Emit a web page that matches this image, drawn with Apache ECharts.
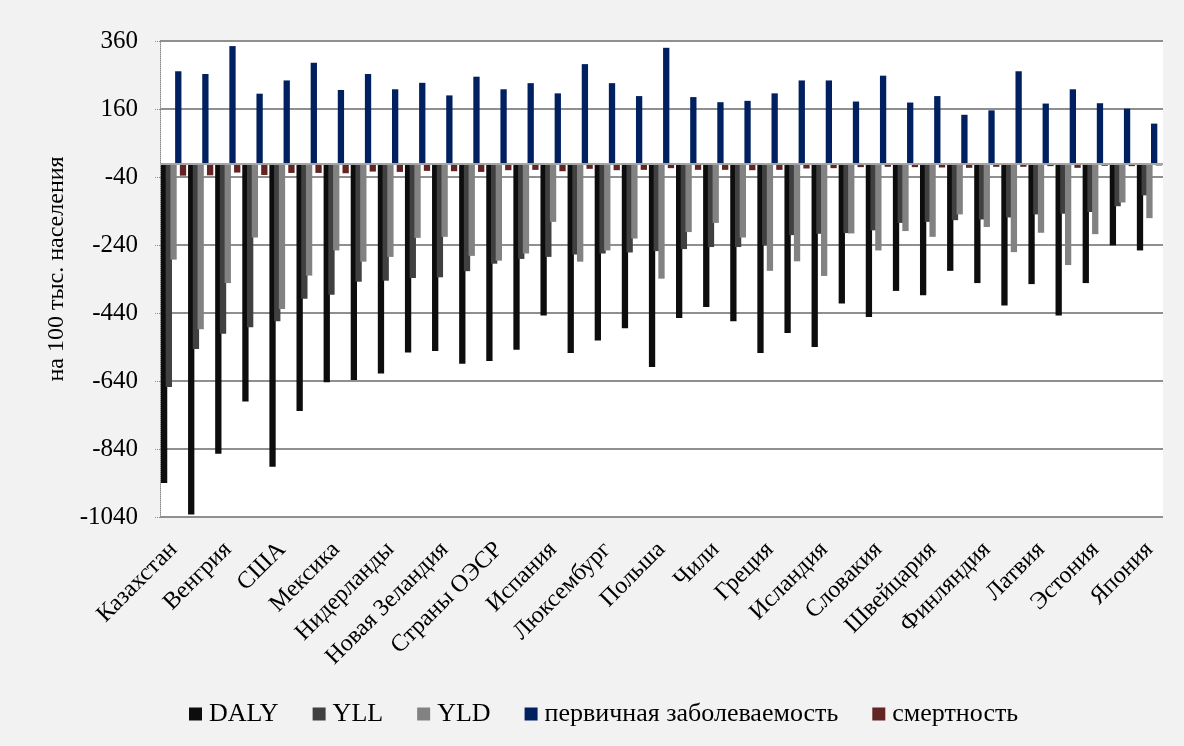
<!DOCTYPE html>
<html>
<head>
<meta charset="utf-8">
<script src="https://cdn.jsdelivr.net/npm/echarts@6/dist/echarts.min.js"></script>
<style>
  html, body { margin: 0; padding: 0; background: #f2f2f2; }
  #chart { width: 1184px; height: 746px; }
</style>
</head>
<body>
<div id="chart"></div>
<script>
// Countries, ordered by YLL (largest loss first); only every other name is printed on the axis
const categories = [
  'Казахстан', 'Словения', 'Венгрия', 'Бельгия', 'США', 'Чехия', 'Мексика', 'Израиль',
  'Нидерланды', 'Франция', 'Новая Зеландия', 'Португалия', 'Страны ОЭСР', 'Канада',
  'Испания', 'Ирландия', 'Люксембург', 'Дания', 'Польша', 'Германия', 'Чили', 'Австрия',
  'Греция', 'Норвегия', 'Исландия', 'Великобритания', 'Словакия', 'Австралия', 'Швейцария',
  'Швеция', 'Финляндия', 'Италия', 'Латвия', 'Турция', 'Эстония', 'Корея', 'Япония'
];

// Losses are plotted downwards (negative), incidence upwards; all per 100 000 population
const daly = [-940, -1033, -854, -700, -892, -728, -644, -637, -618, -556, -552, -589, -581, -548,
  -447, -558, -521, -485, -599, -455, -422, -464, -558, -499, -540, -412, -452, -375, -388, -316,
  -352, -418, -355, -447, -352, -241, -256];
const yll = [-658, -546, -501, -482, -464, -398, -386, -348, -345, -337, -335, -317, -295, -281,
  -275, -268, -265, -262, -258, -252, -246, -246, -241, -211, -207, -205, -197, -175, -172, -167,
  -165, -159, -150, -148, -143, -126, -94];
const yld = [-283, -488, -352, -218, -428, -330, -256, -289, -275, -219, -216, -272, -286, -265,
  -172, -289, -256, -221, -339, -202, -175, -218, -316, -288, -331, -206, -256, -199, -216, -150,
  -187, -261, -204, -299, -208, -115, -161];
const incidence = [271, 263, 345, 205, 244, 296, 216, 263, 218, 237, 200, 255, 218, 236, 206, 292,
  236, 198, 340, 195, 180, 184, 206, 244, 244, 182, 258, 179, 198, 143, 156, 271, 176, 218, 177,
  161, 117];
const mortality = [-36, -35, -27, -34, -28, -28, -29, -24, -25, -22, -23, -25, -20, -19, -23, -16,
  -20, -19, -14, -19, -19, -20, -19, -15, -14, -11, -10, -11, -12, -13, -10, -10, -8, -13, -7, -8, -6];

const seriesNames = ['DALY', 'YLL', 'YLD', 'первичная заболеваемость', 'смертность'];
const seriesColors = ['#0d0d0d', '#404040', '#828282', '#002060', '#632523'];
const seriesData = [daly, yll, yld, incidence, mortality];

const FONT = "'Liberation Serif', 'Times New Roman', serif";

const chart = echarts.init(document.getElementById('chart'), null, { renderer: 'canvas' });

const series = seriesData.map((values, i) => ({
  name: seriesNames[i],
  type: 'bar',
  data: values,
  barWidth: 6.3,
  barGap: '-25%',
  itemStyle: { color: seriesColors[i] },
  emphasis: { disabled: true }
}));

// zero baseline across the plot
series[4].markLine = {
  silent: true,
  symbol: ['none', 'none'],
  label: { show: false },
  lineStyle: { color: '#a6a6a6', width: 2, type: 'solid' },
  data: [{ yAxis: 0 }]
};

chart.setOption({
  animation: false,
  backgroundColor: '#f2f2f2',
  grid: {
    left: 160, right: 21, top: 41, bottom: 229,
    show: true, backgroundColor: '#ffffff', borderWidth: 0
  },
  legend: {
    left: 189, top: 701, padding: 0,
    itemWidth: 13, itemHeight: 13, itemGap: 34,
    icon: 'rect',
    textStyle: { fontFamily: FONT, fontSize: 26, color: '#000', padding: [0, 0, 0, 2] },
    data: seriesNames
  },
  xAxis: {
    type: 'category',
    data: categories,
    axisLine: { show: false, onZero: false },
    axisTick: { show: false },
    splitLine: { show: false },
    axisLabel: {
      interval: 1, rotate: 45, margin: 29,
      fontFamily: FONT, fontSize: 24, color: '#000'
    }
  },
  yAxis: {
    type: 'value',
    min: -1040, max: 360, interval: 200,
    name: 'на 100 тыс. населения',
    nameLocation: 'middle', nameGap: 87, nameRotate: 90,
    nameTextStyle: { fontFamily: FONT, fontSize: 24, color: '#000', padding: [0, 0, 0, 20] },
    axisLine: { show: true, lineStyle: { color: '#8c8c8c', type: 'dotted', width: 1 } },
    axisTick: { show: true, length: 6, lineStyle: { color: '#8c8c8c', type: 'dotted' } },
    axisLabel: {
      margin: 22, fontFamily: FONT, fontSize: 25, color: '#000',
      formatter: (v) => String(v)
    },
    splitLine: { show: true, lineStyle: { color: '#8f8f8f', width: 2 } }
  },
  series: series
});
</script>
</body>
</html>
